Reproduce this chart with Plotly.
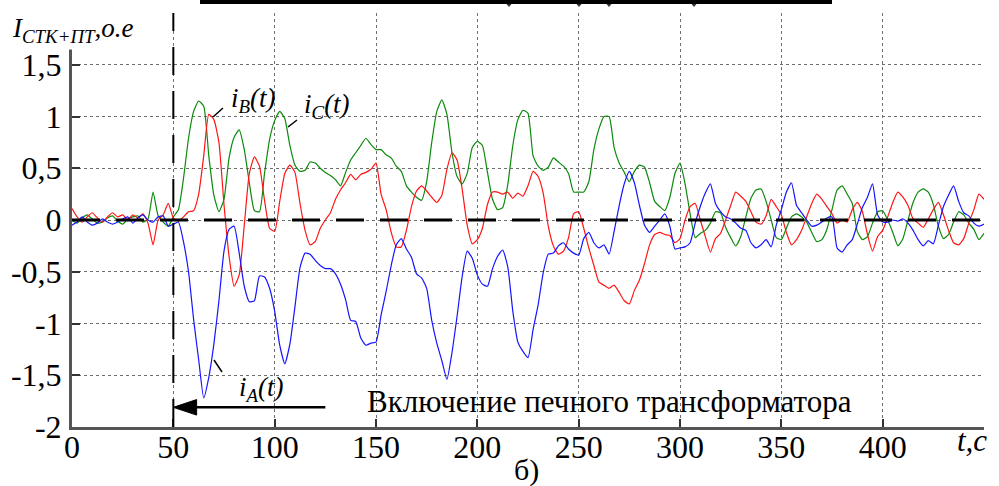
import numpy as np
import plotly.graph_objects as go

# ---- sampled currents (o.e.) on a 2.5 s grid, 0..450 s ----
T_STEP = 2.5
t = np.arange(0, 450 + T_STEP / 2, T_STEP)

i_a = [
    -0.05, -0.02, 0.03, -0.02, -0.05, -0.03, 0.01, -0.02, -0.04, -0.02,
    0.01, 0.03, -0.03, 0.02, 0.05, 0.0, -0.02, 0.03, 0.04, -0.06,
    -0.04, -0.02, -0.21, -0.50, -0.96, -1.35, -1.72, -1.52, -1.20, -0.78,
    -0.30, -0.09, -0.06, -0.32, -0.64, -0.79, -0.78, -0.54, -0.55, -0.66,
    -0.88, -1.21, -1.39, -1.20, -0.84, -0.46, -0.32, -0.33, -0.39, -0.44,
    -0.47, -0.47, -0.52, -0.62, -0.77, -0.97, -0.98, -1.14, -1.21, -1.19,
    -1.18, -0.92, -0.69, -0.44, -0.24, -0.18, -0.28, -0.36, -0.52, -0.56,
    -0.66, -0.97, -1.19, -1.36, -1.54, -1.28, -0.93, -0.55, -0.30, -0.37,
    -0.53, -0.62, -0.64, -0.47, -0.35, -0.29, -0.45, -0.88, -1.18, -1.27,
    -1.33, -1.06, -0.82, -0.51, -0.33, -0.32, -0.25, -0.22, -0.28, -0.32,
    -0.34, -0.18, -0.12, -0.22, -0.27, -0.24, -0.33, -0.11, 0.14, 0.35,
    0.47, 0.36, 0.14, -0.05, -0.12, -0.06, 0.0, 0.06, -0.06, -0.28,
    -0.27, -0.26, -0.22, -0.03, 0.13, 0.26, 0.35, 0.16, 0.08, 0.03,
    0.01, -0.03, -0.08, -0.10, -0.22, -0.27, -0.24, -0.19, -0.26, -0.05,
    0.10, 0.27, 0.36, 0.14, 0.07, 0.0, -0.06, -0.05, -0.02, 0.02,
    0.03, -0.27, -0.31, -0.24, -0.19, -0.04, 0.12, 0.22, 0.35, 0.05,
    -0.02, -0.02, 0.0, -0.01, 0.01, -0.03, -0.10, -0.19, -0.25, -0.20,
    -0.23, -0.05, 0.13, 0.24, 0.33, 0.18, 0.07, 0.04, -0.03, -0.06,
    -0.04,
]

i_b = [
    0.11, 0.03, -0.02, 0.03, 0.07, 0.02, -0.02, 0.03, 0.07, 0.03,
    0.05, 0.0, 0.05, 0.02, 0.06, -0.03, -0.24, 0.0, 0.05, 0.16,
    0.02, -0.01, 0.03, 0.08, 0.09, 0.25, 0.62, 1.02, 0.97, 0.75,
    0.15, -0.35, -0.64, -0.53, -0.05, 0.45, 0.61, 0.52, 0.19, -0.08,
    -0.11, 0.18, 0.45, 0.53, 0.46, 0.16, -0.10, -0.24, -0.21, -0.08,
    0.0, 0.07, 0.20, 0.29, 0.36, 0.44, 0.39, 0.44, 0.46, 0.49,
    0.55, 0.25, 0.10, -0.12, -0.26, -0.26, -0.10, 0.13, 0.28, 0.33,
    0.28, 0.22, 0.17, 0.24, 0.49, 0.65, 0.58, 0.30, -0.05, -0.23,
    -0.19, -0.08, 0.15, 0.27, 0.27, 0.25, 0.27, 0.21, 0.26, 0.23,
    0.33, 0.47, 0.42, 0.26, -0.06, -0.25, -0.33, -0.30, -0.17, 0.06,
    0.08, -0.08, -0.27, -0.44, -0.60, -0.63, -0.66, -0.63, -0.70, -0.78,
    -0.81, -0.68, -0.58, -0.42, -0.24, -0.14, -0.12, -0.14, -0.15, -0.22,
    -0.18, 0.0, 0.13, 0.16, 0.0, -0.16, -0.31, -0.18, -0.13, 0.0,
    0.14, 0.27, 0.23, 0.18, 0.08, -0.02, -0.04, 0.04, 0.20, 0.13,
    0.05, -0.12, -0.24, -0.19, -0.10, 0.03, 0.16, 0.25, 0.20, 0.13,
    0.06, -0.03, 0.0, -0.02, 0.10, 0.17, 0.08, -0.14, -0.30, -0.16,
    -0.10, 0.03, 0.17, 0.27, 0.22, 0.14, 0.01, -0.03, -0.07, 0.01,
    0.10, 0.17, 0.05, -0.10, -0.22, -0.24, -0.18, -0.03, 0.10, 0.25,
    0.20,
]

i_c = [
    0.0, -0.03, 0.02, 0.05, 0.01, -0.03, -0.02, 0.02, 0.04, -0.01,
    -0.04, 0.01, 0.03, 0.04, -0.02, 0.01, 0.27, 0.04, -0.02, -0.06,
    0.03, 0.10, 0.40, 0.79, 1.05, 1.15, 1.10, 0.62, 0.24, 0.08,
    0.20, 0.60, 0.80, 0.87, 0.68, 0.36, 0.09, 0.08, 0.45, 0.78,
    0.96, 1.05, 0.98, 0.72, 0.53, 0.47, 0.48, 0.56, 0.55, 0.50,
    0.46, 0.43, 0.39, 0.33, 0.46, 0.58, 0.65, 0.72, 0.79, 0.73,
    0.68, 0.68, 0.63, 0.60, 0.52, 0.47, 0.33, 0.27, 0.22, 0.19,
    0.37, 0.75, 1.05, 1.16, 1.02, 0.65, 0.42, 0.35, 0.45, 0.70,
    0.76, 0.72, 0.46, 0.20, 0.10, 0.12, 0.34, 0.72, 0.97, 1.06,
    1.03, 0.62, 0.52, 0.48, 0.51, 0.60, 0.56, 0.52, 0.45, 0.27,
    0.27, 0.27, 0.37, 0.68, 0.88, 1.0, 1.0, 0.70, 0.55, 0.46,
    0.37, 0.47, 0.53, 0.51, 0.36, 0.18, 0.13, 0.09, 0.22, 0.45,
    0.55, 0.35, 0.06, -0.17, -0.13, -0.10, -0.03, 0.08, 0.07, -0.07,
    -0.17, -0.25, -0.16, 0.03, 0.21, 0.29, 0.30, 0.18, 0.0, -0.17,
    -0.19, -0.08, 0.03, 0.06, 0.03, -0.02, -0.12, -0.21, -0.19, -0.09,
    0.10, 0.29, 0.33, 0.25, 0.16, -0.11, -0.19, -0.16, -0.03, 0.08,
    0.09, 0.0, -0.12, -0.25, -0.18, 0.0, 0.17, 0.27, 0.30, 0.27,
    0.15, -0.06, -0.18, -0.14, -0.02, 0.08, 0.05, -0.03, -0.09, -0.19,
    -0.13,
]

x_ticks = [0, 50, 100, 150, 200, 250, 300, 350, 400, 450]
x_ticktext = ["0", "50", "100", "150", "200", "250", "300", "350", "400", ""]
y_ticks = [-2, -1.5, -1, -0.5, 0, 0.5, 1, 1.5, 2]
y_ticktext = ["-2", "-1,5", "-1", "-0,5", "0", "0,5", "1", "1,5", ""]

T_SWITCH = 50  # furnace transformer switched on

# ---- page geometry (pixels) ----
W, H = 999, 486
PL, PR, PT, PB = 72, 984, 13, 427
FONT = "'Liberation Serif', 'Times New Roman', Times, serif"


def fx(p):
    return (p - PL) / (PR - PL)


def fy(p):
    return (PB - p) / (PB - PT)


def tfont(size):
    return dict(family=FONT, size=size, color="black")


fig = go.Figure()

for y, color in ((i_c, "#0b8a0b"), (i_b, "#ff1414"), (i_a, "#1414ff")):
    fig.add_trace(go.Scatter(
        x=t, y=y, mode="lines",
        line=dict(color=color, width=1.2, shape="spline", smoothing=0.5),
        showlegend=False, hoverinfo="skip",
    ))

shapes = []
# zero reference line
shapes.append(dict(type="line", xref="x", yref="y", x0=0, x1=450, y0=0, y1=0,
                   line=dict(color="black", width=3, dash="28px,16px"), layer="above"))
# switching instant
shapes.append(dict(type="line", xref="x", yref="y", x0=T_SWITCH, x1=T_SWITCH, y0=-2, y1=2,
                   line=dict(color="black", width=2, dash="28px,16px"), layer="above"))
# arrow to the switching instant
shapes.append(dict(type="line", xref="x", yref="y", x0=125, x1=60, y0=-1.81, y1=-1.81,
                   line=dict(color="black", width=2.5), layer="above"))
shapes.append(dict(type="path", xref="x", yref="y",
                   path=f"M {T_SWITCH},-1.81 L 61.5,-1.735 L 61.5,-1.885 Z",
                   fillcolor="black", line=dict(color="black", width=1), layer="above"))
# leader lines of the curve labels
for (xa, ya, xb, yb) in ((214, 360, 222, 372), (213, 117, 223, 108), (288, 127, 297, 120)):
    shapes.append(dict(type="line", xref="paper", yref="paper",
                       x0=fx(xa), y0=fy(ya), x1=fx(xb), y1=fy(yb),
                       line=dict(color="black", width=1.5), layer="above"))
# clipped title box edge at the top
shapes.append(dict(type="rect", xref="paper", yref="paper",
                   x0=fx(200), x1=fx(832), y0=fy(4), y1=fy(-2),
                   fillcolor="black", line=dict(width=0), layer="above"))
for px in (509, 579, 609, 694):
    shapes.append(dict(type="path", xref="paper", yref="paper",
                       path=f"M {fx(px-2.5)},{fy(4)} L {fx(px+2.5)},{fy(4)} L {fx(px)},{fy(7)} Z",
                       fillcolor="#333", line=dict(width=0), layer="above"))


def label(px, py, text, size, **kw):
    d = dict(xref="paper", yref="paper", x=fx(px), y=fy(py), text=text,
             showarrow=False, xanchor="center", yanchor="middle", font=tfont(size))
    d.update(kw)
    return d


annotations = [
    label(9, 30, "<i>I</i><sub><i>СТК+ПТ</i></sub><i>,о.е</i>", 27,
          xanchor="left", bgcolor="white", borderpad=2),
    label(253, 100, "<i>i</i><sub><i>B</i></sub><i>(t)</i>", 27),
    label(327, 106, "<i>i</i><sub><i>C</i></sub><i>(t)</i>", 27),
    label(261, 389, "<i>i</i><sub><i>A</i></sub><i>(t)</i>", 27),
    label(609, 401, "Включение печного трансформатора", 31),
    label(972, 441, "<i>t,c</i>", 31),
    label(526, 470, "б)", 30),
]

axis_common = dict(
    showgrid=True, gridcolor="#6e6e6e", gridwidth=1, griddash="dot",
    zeroline=False, showline=True, linecolor="#555555", linewidth=3,
    ticks="inside", ticklen=8, tickwidth=1.5, tickcolor="#333333",
    tickfont=tfont(32),
)

fig.update_layout(
    width=W, height=H,
    margin=dict(l=PL, r=W - PR, t=PT, b=H - PB, pad=0),
    paper_bgcolor="white", plot_bgcolor="white",
    font=tfont(27),
    xaxis=dict(range=[0, 450], tickmode="array", tickvals=x_ticks, ticktext=x_ticktext,
               ticklabelstandoff=-10, **axis_common),
    yaxis=dict(range=[-2, 2], tickmode="array", tickvals=y_ticks, ticktext=y_ticktext,
               ticklabelstandoff=1, **axis_common),
    shapes=shapes, annotations=annotations,
)

fig.write_html("out.html")
